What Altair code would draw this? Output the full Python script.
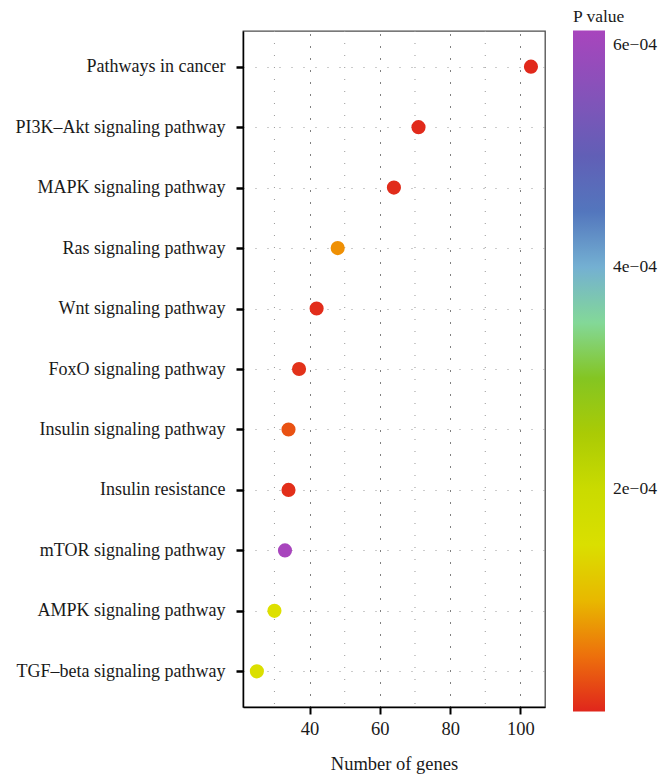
import altair as alt
import pandas as pd

pathways = [
    "Pathways in cancer",
    "PI3K–Akt signaling pathway",
    "MAPK signaling pathway",
    "Ras signaling pathway",
    "Wnt signaling pathway",
    "FoxO signaling pathway",
    "Insulin signaling pathway",
    "Insulin resistance",
    "mTOR signaling pathway",
    "AMPK signaling pathway",
    "TGF–beta signaling pathway",
]
gene_counts = [103, 71, 64, 48, 42, 37, 34, 34, 33, 30, 25]
p_values = [2e-6, 3e-6, 4e-6, 7e-5, 5e-6, 8e-6, 3e-5, 6e-6, 6.13e-4, 1.35e-4, 1.45e-4]

minor_ticks = [30, 50, 70, 90]
major_ticks = [40, 60, 80, 100]
legend_ticks = [2e-4, 4e-4, 6e-4]

color_stops = [0, 0.4e-4, 0.8e-4, 1.0e-4, 1.3e-4, 2.0e-4, 2.42e-4, 3.05e-4, 3.67e-4, 4.11e-4, 4.63e-4, 6.13e-4]
color_range = ["#e0261c", "#ec6010", "#f0a000", "#e8b800", "#e0e000", "#cadb00",
               "#b0cc00", "#80c425", "#84e0c4", "#6fa0d6", "#4a68b4", "#a845bd"]

df = pd.DataFrame({"pathway": pathways, "genes": gene_counts, "p": p_values})
minor_df = pd.DataFrame({"minor": minor_ticks})

FONT = "Liberation Serif"

x_scale = alt.Scale(domain=[21.05, 107.0], nice=False, zero=False)

minor_grid = alt.Chart(minor_df).mark_rule(
    color="#999999", strokeDash=[1, 11], strokeWidth=1
).encode(x=alt.X("minor:Q", scale=x_scale))

points = alt.Chart(df).mark_circle(size=200, opacity=1).encode(
    x=alt.X(
        "genes:Q",
        scale=x_scale,
        axis=alt.Axis(
            values=major_ticks,
            title="Number of genes",
            titleFontSize=18.5,
            titleFontWeight="normal",
            titleColor="#1a1a1a",
            titlePadding=17,
            labelFontSize=18.5,
            labelColor="#1a1a1a",
            labelPadding=5,
            tickSize=7,
            tickWidth=2,
            tickColor="black",
            domainColor="black",
            domainWidth=1.5,
            grid=True,
            gridColor="black",
            gridDash=[1, 11],
            gridWidth=1,
        ),
    ),
    y=alt.Y(
        "pathway:N",
        sort=pathways,
        scale=alt.Scale(type="point", padding=0.59),
        axis=alt.Axis(
            title=None,
            labelFontSize=18,
            labelColor="#1a1a1a",
            labelPadding=11,
            labelLimit=0,
            tickSize=7,
            tickWidth=2.5,
            tickColor="black",
            domainColor="black",
            domainWidth=1.5,
            grid=True,
            gridColor="#999999",
            gridDash=[1, 11],
            gridWidth=1,
        ),
    ),
    color=alt.Color(
        "p:Q",
        scale=alt.Scale(type="linear", domain=color_stops, range=color_range, interpolate="rgb"),
        legend=alt.Legend(
            title="P value",
            orient="none",
            legendX=330,
            legendY=-23,
            direction="vertical",
            titleFontSize=17.5,
            titleFontWeight="normal",
            titleColor="#1a1a1a",
            titlePadding=5,
            gradientLength=681,
            gradientThickness=32,
            gradientStrokeWidth=0,
            labelFontSize=17.5,
            labelColor="#1a1a1a",
            labelOffset=8,
            values=legend_ticks,
            labelExpr="replace(format(datum.value, '.0e'), 'e-', 'e\u22120')",
            padding=0,
        ),
    ),
)

chart = alt.layer(minor_grid, points).properties(
    width=302,
    height=676,
    autosize=alt.AutoSizeParams(type="none"),
    padding={"left": 243, "top": 31, "right": 114, "bottom": 76},
).configure(
    font=FONT,
).configure_view(
    stroke="#4d4d4d",
    strokeWidth=1.3,
)

chart.save("out.html", embed_options={"renderer": "svg", "actions": False})
